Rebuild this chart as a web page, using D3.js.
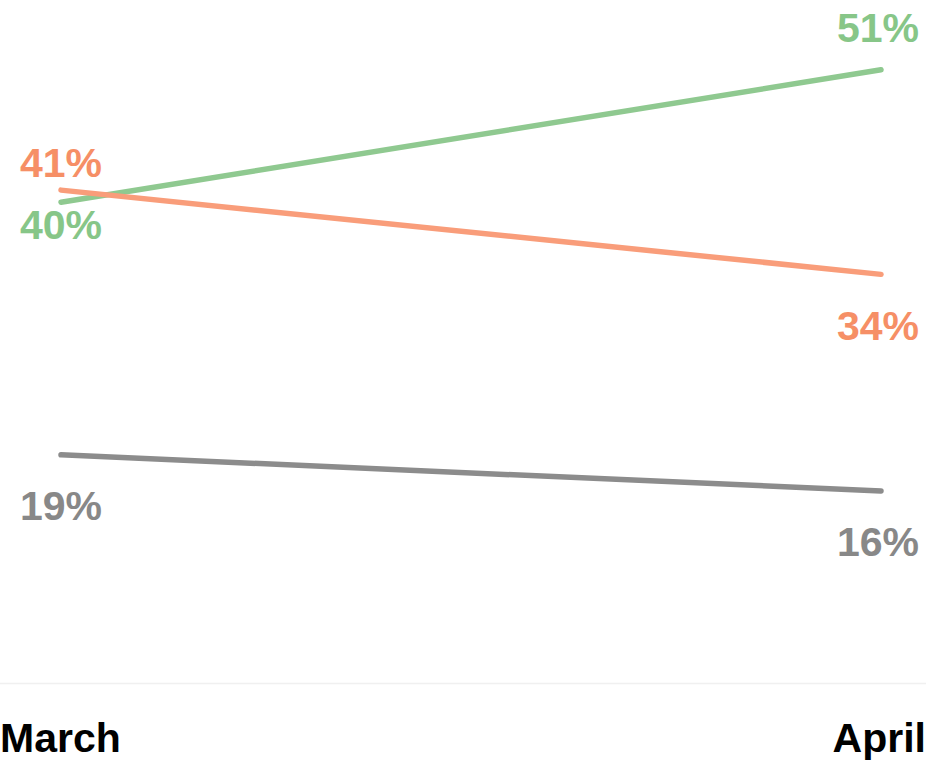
<!DOCTYPE html>
<html>
<head>
<meta charset="utf-8">
<script src="https://cdn.jsdelivr.net/npm/d3@7"></script>
<style>
  html, body { margin: 0; padding: 0; background: #fff; }
  svg { display: block; font-family: "Liberation Sans", Arial, sans-serif; }
</style>
</head>
<body>
<svg id="chart" width="926" height="760"></svg>
<script>
const categories = ["March", "April"];
const seriesNames = ["Green", "Orange", "Gray"];
const greenValues = [40, 51];
const orangeValues = [41, 34];
const grayValues = [19, 16];
const valueLabels = [["40%", "51%"], ["41%", "34%"], ["19%", "16%"]];

const colors = ["#8fc990", "#f99d7a", "#8c8c8c"];
const textColors = ["#87c688", "#f68f66", "#888888"];
// label baseline offsets (px) relative to line point: [start, end]
const labelDy = [[37, -28], [-13, 66], [65, 65]];

const series = [greenValues, orangeValues, grayValues].map((v, i) => ({ name: seriesNames[i], values: v, labels: valueLabels[i] }));

const W = 926, H = 760;
const svg = d3.select("#chart");

const x = d3.scalePoint().domain(categories).range([61, 881]);
const y = d3.scaleLinear().domain([0, 56.8]).range([683.5, 0]);

// baseline axis
svg.append("line")
  .attr("x1", 0).attr("x2", W)
  .attr("y1", 683.5).attr("y2", 683.5)
  .attr("stroke", "#f0f0f0").attr("stroke-width", 1.5);

const line = d3.line().x((d, i) => x(categories[i])).y(d => y(d));

series.forEach((s, si) => {
  svg.append("path")
    .datum(s.values)
    .attr("d", line)
    .attr("fill", "none")
    .attr("stroke", colors[si])
    .attr("stroke-width", 5.5)
    .attr("stroke-linecap", "round");
});

series.forEach((s, si) => {
  s.values.forEach((v, i) => {
    svg.append("text")
      .attr("x", i === 0 ? 20 : 919)
      .attr("y", y(v) + labelDy[si][i])
      .attr("text-anchor", i === 0 ? "start" : "end")
      .attr("font-size", 41)
      .attr("font-weight", "bold")
      .attr("fill", textColors[si])
      .text(s.labels[i]);
  });
});

// category labels
categories.forEach((c, i) => {
  svg.append("text")
    .attr("x", i === 0 ? 0 : W)
    .attr("y", 752)
    .attr("text-anchor", i === 0 ? "start" : "end")
    .attr("font-size", 41)
    .attr("font-weight", "bold")
    .attr("fill", "#000")
    .text(c);
});
</script>
</body>
</html>
